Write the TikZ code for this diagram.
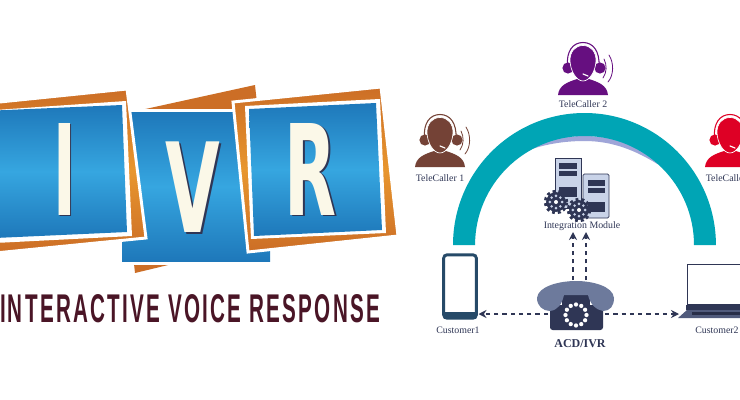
\documentclass[tikz,border=0pt]{standalone}
\usepackage{fontspec}
\usepackage{graphicx}
\setmainfont{Liberation Serif}
\newfontfamily\bigsans{DejaVu Sans}
\newfontfamily\tagsans[LetterSpace=11]{Liberation Sans}
\usetikzlibrary{arrows.meta}
\definecolor{bluedark}{HTML}{1E78BA}
\definecolor{bluelight}{HTML}{36A6E0}
\definecolor{orangedark}{HTML}{CC6E26}
\definecolor{orangelight}{HTML}{E8962E}
\definecolor{cream}{HTML}{FBF8E8}
\definecolor{maroon}{HTML}{4A1526}
\definecolor{teal}{HTML}{00A5B5}
\definecolor{lav}{HTML}{9FA5D8}
\definecolor{navy}{HTML}{2F3655}
\definecolor{slate}{HTML}{6D7A9C}
\definecolor{tabletblue}{HTML}{264A68}
\definecolor{srv}{HTML}{C9D3E8}
\definecolor{agentA}{HTML}{744236}
\definecolor{agentB}{HTML}{660F80}
\definecolor{agentC}{HTML}{DE0025}
\newcommand{\bigletter}[3]{\resizebox{#1}{#2}{\bigsans\bfseries #3}}
\tikzset{
  bluepanel/.style={top color=bluedark,bottom color=bluedark,middle color=bluelight,draw=none},
  orangepanel/.style={top color=orangedark,bottom color=orangedark,middle color=orangelight,draw=white,line width=2.2pt,line join=miter},
  framepanel/.style={fill=white,draw=none},
  letterface/.style={text=cream,inner sep=0pt,outer sep=0pt},
  lettershade/.style={text=navy,inner sep=0pt,outer sep=0pt},
  caption/.style={text=navy,font=\fontsize{7.4pt}{8pt}\selectfont,inner sep=0pt},
  flow/.style={navy,line width=1.1pt,dash pattern=on 3.2pt off 3pt,-{Stealth[length=6pt,width=6pt]}},
  agent/.pic={
    \fill[#1] (-25,32) .. controls (-24,22) and (-15,19) .. (-6,16) -- (6,16) .. controls (15,19) and (24,22) .. (25,32) -- cycle;
    \fill[#1] (-15,5) circle[radius=4.2pt];
    \fill[#1] (17,5) circle[radius=4.2pt];
    \draw[#1,line width=.8pt] (-15.5,4) .. controls (-17,-12) and (-10,-20.5) .. (0,-20.5) .. controls (10,-20.5) and (17,-12) .. (16,4);
    \draw[#1,line width=.6pt,line cap=round] (21,-4) .. controls (24,2) and (24,9) .. (20,15);
    \draw[#1,line width=.6pt,line cap=round] (26,-8) .. controls (31,0) and (31,12) .. (25,19);
    \fill[#1,draw=white,line width=.5pt] (0,-17.5) .. controls (8,-17.5) and (13,-11) .. (13,-3) .. controls (13,7) and (7,18) .. (0,18) .. controls (-7,18) and (-13,7) .. (-13,-3) .. controls (-13,-11) and (-8,-17.5) .. (0,-17.5) -- cycle;
    \draw[white,line width=.9pt,line cap=round] (0,11) -- (5,13);
  },
  gearwheel/.pic={
    \fill[navy] (0,0) circle[radius=7.4pt];
    \draw[navy,line width=2.8pt,dash pattern=on 2.1pt off 2.1pt] (0,0) circle[radius=7.8pt];
    \foreach \a in {0,45,...,315} {\fill[srv] (\a:6.2) circle[radius=1.1pt];}
    \fill[white] (0,0) circle[radius=1.5pt];
  }
}
\begin{document}
\begin{tikzpicture}[x=0.75pt,y=-0.75pt]
\path[use as bounding box] (0,0) rectangle (740,400);
\clip (0,0) rectangle (740,400);
\fill[white] (0,0) rectangle (740,400);
% V panel
\shade[top color=orangedark,bottom color=orangedark] (255,85) -- (272,240) -- (135,273) -- (118,115) -- cycle;
\fill[white] (120,108.5) rectangle (273,265);
\shade[bluepanel] (122,112) rectangle (270,261);
\node[lettershade] (vshade) at (194.5,189) {\bigletter{41pt}{68pt}{V}};
\node[letterface] (vletter) at (193,187.5) {\bigletter{41pt}{68pt}{V}};
% I panel
\shade[orangepanel] (-5,102.5) -- (127,89) -- (146,238) -- (-5,253) -- cycle;
\fill[framepanel] (-5,110) -- (126,101) -- (132,236) -- (-5,243) -- cycle;
\shade[bluepanel] (-5,110.5) -- (122,105) -- (127,232) -- (-5,238) -- cycle;
\node[lettershade] (ishade) at (65.5,170.5) {\bigletter{17pt}{69pt}{I}};
\node[letterface] (iletter) at (64.5,169) {\bigletter{17pt}{69pt}{I}};
% R panel
\shade[orangepanel] (233,102) -- (381,87) -- (398,236) -- (248,252) -- cycle;
\fill[framepanel] (245,106) -- (380,99) -- (386,233) -- (251,239) -- cycle;
\shade[bluepanel] (249,109) -- (376,103) -- (382,230) -- (254,236) -- cycle;
\node[lettershade] (rshade) at (312.5,170.5) {\bigletter{39pt}{69pt}{R}};
\node[letterface] (rletter) at (311,169) {\bigletter{39pt}{69pt}{R}};
% tag line
\node[anchor=west,text=maroon,inner sep=0pt,outer sep=0pt] (tagline) at (0,309) {\resizebox{285pt}{21pt}{\tagsans\bfseries INTERACTIVE VOICE RESPONSE}};
% arch
\fill[lav] (482,177) .. controls (510,150) and (545,136) .. (584.5,136) .. controls (615,136) and (640,146) .. (659,165) .. controls (635,150) and (612,141) .. (584.5,141) .. controls (545,141) and (510,153) .. (482,177) -- cycle;
\fill[teal] (453,245) arc[start angle=180,end angle=0,x radius=98.6pt,y radius=99pt] -- (694,245) arc[start angle=0,end angle=180,x radius=82.1pt,y radius=81.75pt] -- cycle;
% agents
\pic (agent1) at (440,135) {agent=agentA};
\pic (agent2) at (583,63) {agent=agentB};
\pic (agent3) at (730,135) {agent=agentC};
\node[caption] (lab1) at (440,178) {TeleCaller 1};
\node[caption] (lab2) at (583,104) {TeleCaller 2};
\node[caption] (lab3) at (730,178) {TeleCaller 3};
% servers
\draw[navy,fill=srv,line width=.6pt] (555,158) rectangle (581,208);
\fill[navy] (559,163) rectangle (577,168.5);
\fill[navy] (559,170.5) rectangle (577,176);
\fill[navy] (559,187) rectangle (577,197);
\draw[navy,fill=srv,line width=.6pt,rounded corners=1pt] (583,174) rectangle (609,218);
\fill[navy] (588,180) rectangle (605,185.5);
\fill[navy] (588,187.5) rectangle (605,193);
\fill[navy] (588,202) rectangle (605,212);
\pic (gear1) at (556,202) {gearwheel};
\pic (gear2) at (579,210) {gearwheel};
\node[caption] (integration) at (582,226.5) {Integration Module};
% customer 1 tablet
\node[draw=tabletblue,fill=white,line width=2.2pt,rounded corners=2.5pt,minimum width=24.5pt,minimum height=47.5pt,inner sep=0pt] (customer1) at (460,286.5) {};
\fill[tabletblue] (444,312) rectangle (476,319);
\node[caption] (lab4) at (458,330.5) {Customer1};
% laptop
\node[draw=navy,fill=white,line width=1pt,minimum width=50pt,minimum height=30pt,anchor=north west,inner sep=0pt] (customer2) at (686.5,264) {};
\fill[navy] (686,305) rectangle (745,310);
\fill[slate!55!navy] (687,310) -- (745,310) -- (745,318) -- (678,318) -- cycle;
\fill[navy!85!black] (692,312) rectangle (745,315);
\node[caption] (lab5) at (717,330.5) {Customer2};
% telephone
\fill[navy,rounded corners=2pt] (550,305) rectangle (603,330);
\fill[navy] (562,295) rectangle (590,310);
\fill[slate] (537,298) .. controls (538,286) and (560,281) .. (576,281) .. controls (592,281) and (613,286) .. (614,298) .. controls (614,306) and (610,311) .. (603,311) .. controls (596,310) and (590,304) .. (588,295) -- (564,295) .. controls (562,304) and (558,310) .. (550,311) .. controls (543,311) and (537,306) .. (537,298) -- cycle;
\foreach \a in {0,30,...,330} {\fill[white] ([shift={(576,315)}]\a:10.5) circle[radius=1.6pt];}
\node[text=navy,font=\fontsize{9pt}{10pt}\selectfont\bfseries,inner sep=0pt] (acdlabel) at (580,344) {ACD/IVR};
% connectors
\coordinate (acdL) at (548,314);
\coordinate (acdR) at (605,314);
\coordinate (cust1R) at (478.5,314);
\coordinate (cust2L) at (679,314);
\coordinate (acdU1) at (573,280);
\coordinate (acdU2) at (586,280);
\coordinate (intD1) at (573,232);
\coordinate (intD2) at (586,232);
\draw[flow] (acdL) -- (cust1R);
\draw[flow] (acdR) -- (cust2L);
\draw[flow] (acdU1) -- (intD1);
\draw[flow] (acdU2) -- (intD2);
\end{tikzpicture}
\end{document}
